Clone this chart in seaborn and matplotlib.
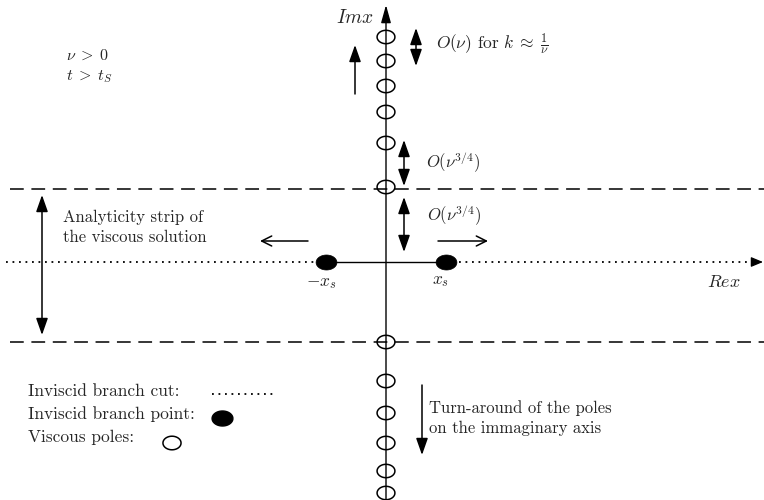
import numpy as np
import matplotlib
matplotlib.use("Agg")
import matplotlib.pyplot as plt
from matplotlib.path import Path
import seaborn as sns

sns.set_theme(style="white")
plt.rcParams['mathtext.fontset'] = 'cm'
plt.rcParams['font.family'] = ['cmr10', 'DejaVu Sans']
plt.rcParams['axes.unicode_minus'] = False

# ---- schematic data (complex plane, arbitrary units, origin at 0) ----
pole_im_upper = [225, 201, 176, 150, 119, 75]       # viscous poles above real axis
pole_im_lower = [-80, -119, -151, -181, -209, -231]  # viscous poles below real axis
branch_re = [-60, 60]                                # inviscid branch points -x_s, x_s
strip_edges = [73, -80]                              # analyticity strip boundaries
branch_labels = [r"$-x_s$", r"$x_s$"]

fig = plt.figure(figsize=(7.64, 5.0), dpi=100)
ax = fig.add_axes([0, 0, 1, 1])
ax.set_xlim(-386, 378)
ax.set_ylim(-238, 262)
ax.axis('off')


def P(px, py):
    return (px - 386, 262 - py)


def ellipse_marker(aspect):
    t = np.linspace(0, 2 * np.pi, 65)
    return Path(np.c_[np.cos(t), aspect * np.sin(t)])


open_ell = ellipse_marker(0.75)
fill_ell = ellipse_marker(0.72)
dots = (0, (1, 2.6))

# ---- axes lines ----
ax.annotate("", xy=(0, 257), xytext=(0, -240),
            arrowprops=dict(arrowstyle='-|>,head_length=0.9,head_width=0.25',
                            lw=1.0, color='black', shrinkA=0, shrinkB=0))
ax.plot([-380, branch_re[0]], [0, 0], color='black', lw=1.3, ls=dots)
ax.plot([branch_re[1], 372], [0, 0], color='black', lw=1.3, ls=dots)
ax.plot(branch_re, [0, 0], color='black', lw=1.0)
ax.annotate("", xy=(377, 0), xytext=(368, 0),
            arrowprops=dict(arrowstyle='-|>,head_length=0.6,head_width=0.25',
                            lw=0.9, color='black', shrinkA=0, shrinkB=0))

for yv in strip_edges:
    ax.plot([-376, 378], [yv, yv], color='black', lw=1.1, ls=(0, (9, 5)))

# ---- poles and branch points via seaborn ----
poles_y = pole_im_upper + pole_im_lower
sns.scatterplot(x=[0] * len(poles_y), y=poles_y, marker=open_ell, s=165,
                facecolor='none', edgecolor='black', linewidth=1.1, ax=ax,
                zorder=5)
sns.scatterplot(x=branch_re, y=[0, 0], marker=fill_ell, s=225,
                color='black', edgecolor='black', linewidth=0.5, ax=ax,
                zorder=6)

# ---- labels ----
ax.text(*P(374, 18), r"$Imx$", fontsize=14, ha='right', va='center')
ax.text(*P(724, 282), r"$Rex$", fontsize=13, ha='center', va='center')
ax.text(*P(321, 283), branch_labels[0], fontsize=12.5, ha='center', va='center')
ax.text(*P(441, 281), branch_labels[1], fontsize=12.5, ha='center', va='center')

ax.text(*P(66, 56), r"$\nu\; >\; 0$", fontsize=11.5, ha='left', va='center')
ax.text(*P(66, 77), r"$t\; >\; t_S$", fontsize=11.5, ha='left', va='center')

ax.text(*P(436, 44), r"$O(\nu)$ for $k\; \approx\; \frac{1}{\nu}$", fontsize=12.5,
        ha='left', va='center')
ax.text(*P(426, 163), r"$O(\nu^{3/4})$", fontsize=12, ha='left', va='center')
ax.text(*P(427, 216), r"$O(\nu^{3/4})$", fontsize=12, ha='left', va='center')

ax.text(*P(63, 217), "Analyticity strip of", fontsize=12, ha='left', va='center')
ax.text(*P(63, 237), "the viscous solution", fontsize=12, ha='left', va='center')

ax.text(*P(429, 408), "Turn-around of the poles", fontsize=12, ha='left', va='center')
ax.text(*P(429, 428), "on the immaginary axis", fontsize=12, ha='left', va='center')

# legend block
ax.text(*P(28, 391), "Inviscid branch cut:", fontsize=12.5, ha='left', va='center')
ax.text(*P(28, 414), "Inviscid branch point:", fontsize=12.5, ha='left', va='center')
ax.text(*P(28, 437), "Viscous poles:", fontsize=12.5, ha='left', va='center')
lx0, ly0 = P(212, 394)
lx1, _ = P(274, 394)
ax.plot([lx0, lx1], [ly0, ly0], color='black', lw=1.3, ls=dots)
ax.scatter(*P(222, 418), marker=fill_ell, s=225, color='black', zorder=6)
ax.scatter(*P(172, 443), marker=open_ell, s=170, facecolor='none',
           edgecolor='black', linewidth=1.1, zorder=6)

# ---- arrows ----
fill_head = '-|>,head_length=0.85,head_width=0.3'
dbl_head = '<|-|>,head_length=0.85,head_width=0.3'
open_head = '->,head_length=0.6,head_width=0.3'


def arrow(p_from, p_to, style, lw=1.1):
    ax.annotate("", xy=P(*p_to), xytext=P(*p_from),
                arrowprops=dict(arrowstyle=style, lw=lw, color='black',
                                shrinkA=0, shrinkB=0))


arrow((355, 94), (355, 45), fill_head)
arrow((416, 66), (416, 28), dbl_head)
arrow((404, 186), (404, 140), dbl_head)
arrow((404, 252), (404, 197), dbl_head)
arrow((308, 241), (260, 241), open_head)
arrow((438, 241), (488, 241), open_head)
arrow((42, 335), (42, 195), dbl_head)
arrow((422, 385), (422, 455), fill_head)

fig.savefig("out.png", dpi=100)
